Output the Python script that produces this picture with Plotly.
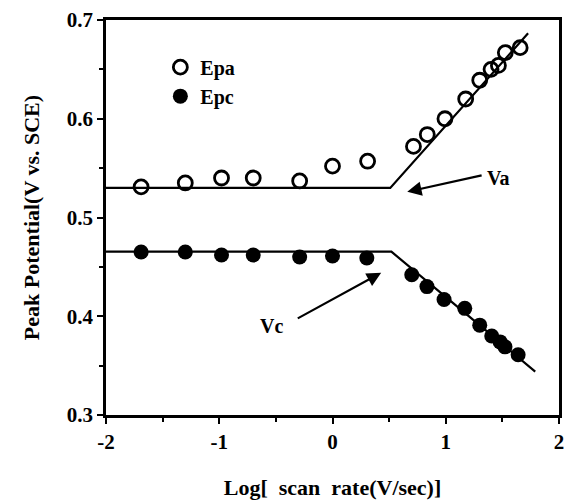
import plotly.graph_objects as go

# Data (log scan rate, peak potential V vs SCE)
epa_x = [-1.69, -1.30, -0.98, -0.70, -0.29, 0.0, 0.31, 0.715, 0.837, 0.993, 1.176, 1.30, 1.40, 1.465, 1.526, 1.657]
epa_y = [0.531, 0.535, 0.540, 0.540, 0.537, 0.552, 0.557, 0.572, 0.584, 0.600, 0.620, 0.639, 0.650, 0.654, 0.667, 0.672]

epc_x = [-1.69, -1.30, -0.98, -0.70, -0.29, 0.0, 0.303, 0.70, 0.834, 0.985, 1.168, 1.30, 1.406, 1.48, 1.523, 1.639]
epc_y = [0.465, 0.465, 0.462, 0.462, 0.460, 0.461, 0.459, 0.442, 0.430, 0.417, 0.408, 0.391, 0.380, 0.374, 0.369, 0.361]

fit_a_x = [-2.0, 0.51, 1.727]
fit_a_y = [0.530, 0.530, 0.6865]
fit_c_x = [-2.0, 0.52, 1.79]
fit_c_y = [0.4654, 0.4654, 0.344]

FONT = "Liberation Serif"

fig = go.Figure()
fig.add_trace(go.Scatter(x=fit_a_x, y=fit_a_y, mode="lines", line=dict(color="black", width=2.2), showlegend=False))
fig.add_trace(go.Scatter(x=fit_c_x, y=fit_c_y, mode="lines", line=dict(color="black", width=2.2), showlegend=False))
fig.add_trace(go.Scatter(x=epa_x, y=epa_y, mode="markers", name="Epa",
                         marker=dict(symbol="circle-open", size=14, color="black", line=dict(width=2.8, color="black"))))
fig.add_trace(go.Scatter(x=epc_x, y=epc_y, mode="markers", name="Epc",
                         marker=dict(symbol="circle", size=15, color="black")))

# Arrows
fig.add_annotation(x=0.66, y=0.526, ax=1.33, ay=0.543, xref="x", yref="y", axref="x", ayref="y",
                   showarrow=True, arrowhead=2, arrowsize=1.3, arrowwidth=2.2, arrowcolor="black", text="")
fig.add_annotation(x=1.47, y=0.540, text="<b>Va</b>", showarrow=False, font=dict(family=FONT, size=20, color="black"))
fig.add_annotation(x=0.43, y=0.444, ax=-0.32, ay=0.397, xref="x", yref="y", axref="x", ayref="y",
                   showarrow=True, arrowhead=2, arrowsize=1.3, arrowwidth=2.2, arrowcolor="black", text="")
fig.add_annotation(x=-0.54, y=0.390, text="<b>Vc</b>", showarrow=False, font=dict(family=FONT, size=20, color="black"))

axis_common = dict(showline=True, linewidth=2.5, linecolor="black", mirror=True, ticks="outside",
                   ticklen=6, tickwidth=2, tickcolor="black", showgrid=False, zeroline=False, automargin=False,
                   ticklabeloverflow="allow",
                   tickfont=dict(family=FONT, size=21, color="black", weight="bold"))

fig.update_xaxes(range=[-2, 2], tickvals=[-2, -1, 0, 1, 2], ticktext=["-2", "-1", "0", "1", "2"],
                 minor=dict(tickvals=[-1.5, -0.5, 0.5, 1.5], ticks="outside", ticklen=4, tickwidth=2, tickcolor="black"),
                 title=dict(text="Log[  scan  rate(V/sec)]", font=dict(family=FONT, size=22, color="black", weight="bold"), standoff=30),
                 **axis_common)
fig.update_yaxes(range=[0.3, 0.7], tickvals=[0.3, 0.4, 0.5, 0.6, 0.7], ticktext=["0.3", "0.4", "0.5", "0.6", "0.7"],
                 minor=dict(tickvals=[0.35, 0.45, 0.55, 0.65], ticks="outside", ticklen=4, tickwidth=2, tickcolor="black"),
                 title=dict(text="Peak Potential(V vs. SCE)", font=dict(family=FONT, size=22, color="black", weight="bold"), standoff=22),
                 **axis_common)

fig.update_layout(
    width=568, height=500,
    margin=dict(l=106, r=9, t=20, b=85),
    plot_bgcolor="white", paper_bgcolor="white",
    font=dict(family=FONT, color="black"),
    legend=dict(x=0.12, y=0.93, xanchor="left", yanchor="top", bgcolor="rgba(0,0,0,0)",
                font=dict(family=FONT, size=20, color="black", weight="bold"), tracegroupgap=0, itemwidth=30),
)

fig.write_html("out.html")
